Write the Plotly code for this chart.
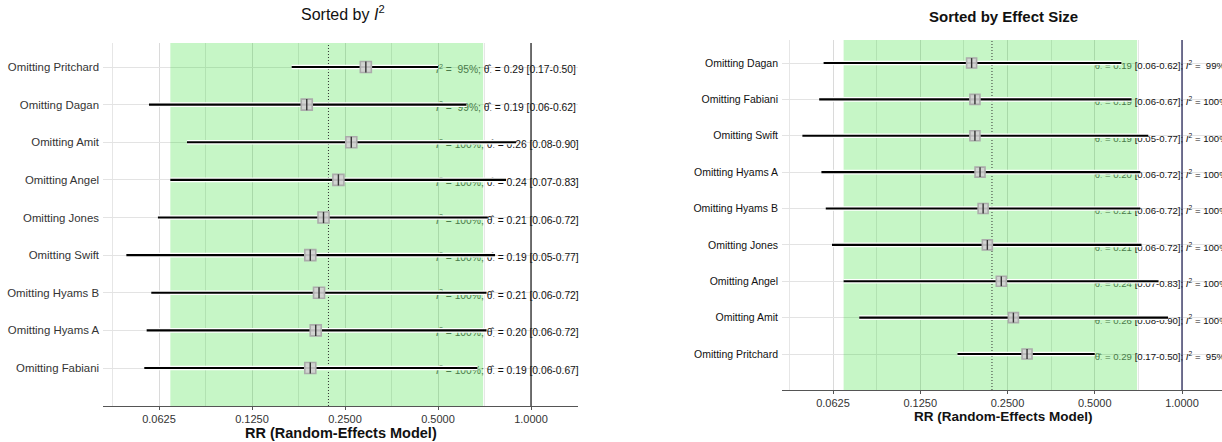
import math
import plotly.graph_objects as go

# ---------------- data ----------------
studies = ["Pritchard", "Dagan", "Amit", "Angel", "Jones", "Swift", "Hyams B", "Hyams A", "Fabiani"]
i2_pct = [95, 99, 100, 100, 100, 100, 100, 100, 100]
rr_est = [0.292, 0.188, 0.262, 0.238, 0.213, 0.193, 0.206, 0.201, 0.193]
rr_lo = [0.168, 0.058, 0.077, 0.068, 0.062, 0.049, 0.059, 0.057, 0.056]
rr_hi = [0.500, 0.618, 0.895, 0.830, 0.725, 0.765, 0.718, 0.718, 0.670]

order_i2 = ["Pritchard", "Dagan", "Amit", "Angel", "Jones", "Swift", "Hyams B", "Hyams A", "Fabiani"]
order_es = ["Dagan", "Fabiani", "Swift", "Hyams A", "Hyams B", "Jones", "Angel", "Amit", "Pritchard"]

pooled_est = 0.221
pooled_lo = 0.068
pooled_hi = 0.700

tick_vals = [0.0625, 0.125, 0.25, 0.5, 1.0]
tick_text = ["0.0625", "0.1250", "0.2500", "0.5000", "1.0000"]
minor_vals = [0.0442, 0.0884, 0.1768, 0.3536, 0.7071]

# ---------------- layout geometry (pixels) ----------------
W, H = 1222, 442
LP = dict(x0=103, x1=578, ref=531, ppd=93.0, top=43, bot=406, r_top=67, r_bot=368, tx=-2)
RP = dict(x0=782, x1=1222, ref=1182, ppd=87.25, top=40, bot=390, r_top=63, r_bot=354, tx=0)
FONT = "Liberation Sans, Arial, sans-serif"
TINT = "#4a7a4a"


def x_range(p):
    l2 = math.log10(2)
    return [l2 * (p["x0"] - p["ref"]) / p["ppd"], l2 * (p["x1"] - p["ref"]) / p["ppd"]]


def y_range(p, n=9):
    step = (p["r_bot"] - p["r_top"]) / (n - 1)
    return [1 - (p["bot"] - p["r_bot"]) / step, n + (p["r_top"] - p["top"]) / step]


def fmt_i2(v):
    s = f"{v}%"
    return s.rjust(4).replace(" ", "\u00a0")


THETA = "\u03b8\u0302<sub>\u00b7</sub>"
I2 = "<i>I</i><sup>2</sup>"

fig = go.Figure()


def add_panel(order, xa, ya, p, text_mode, text_size, marker_size, null_color):
    n = len(order)
    idx = [studies.index(s) for s in order]
    ys = [n - k for k in range(n)]
    step = (p["r_bot"] - p["r_top"]) / (n - 1)
    est = [rr_est[i] for i in idx]
    lo = [rr_lo[i] for i in idx]
    hi = [rr_hi[i] for i in idx]
    i2 = [i2_pct[i] for i in idx]

    texts = []
    for e, l, h, q in zip(est, lo, hi, i2):
        i2_txt = f"{I2} = {fmt_i2(q)}"
        part_th = f"{THETA} = {e:.2f} "
        part_ci = f"[{l:.2f}-{h:.2f}]"
        if text_mode == "left":
            texts.append(f"<span style='color:{TINT}'>{i2_txt}; </span>{part_th}{part_ci}")
        else:
            texts.append(f"<span style='color:{TINT}'>{part_th}</span>{part_ci}; {i2_txt}")

    text_x = 0.5 * 2 ** (p["tx"] / p["ppd"])
    # text (beneath the lines)
    fig.add_trace(go.Scatter(
        x=[text_x] * n, y=[y - 3.5 / step for y in ys], mode="text", text=texts,
        textposition="middle right", textfont=dict(family=FONT, size=text_size, color="#111"),
        xaxis=xa, yaxis=ya, showlegend=False, hoverinfo="skip", cliponaxis=False))

    lx, ly = [], []
    for l, h, y in zip(lo, hi, ys):
        lx += [l, h, None]
        ly += [y, y, None]
    fig.add_trace(go.Scatter(x=lx, y=ly, mode="lines", line=dict(color="white", width=4.6),
                             xaxis=xa, yaxis=ya, showlegend=False, hoverinfo="skip", cliponaxis=False))
    fig.add_trace(go.Scatter(x=lx, y=ly, mode="lines", line=dict(color="black", width=2.2),
                             xaxis=xa, yaxis=ya, showlegend=False, hoverinfo="skip", cliponaxis=False))
    fig.add_trace(go.Scatter(x=est, y=ys, mode="markers",
                             marker=dict(symbol="square", size=marker_size, color="rgba(208,208,208,0.9)",
                                         line=dict(color="#ababab", width=1.6)),
                             xaxis=xa, yaxis=ya, showlegend=False, hoverinfo="skip"))
    fig.add_trace(go.Scatter(x=est, y=ys, mode="markers",
                             marker=dict(symbol="line-ns", size=marker_size - 3,
                                         line=dict(color="#333", width=1.4)),
                             xaxis=xa, yaxis=ya, showlegend=False, hoverinfo="skip"))

    y0, y1 = y_range(p)
    fig.add_shape(type="rect", xref=xa, yref=ya, x0=pooled_lo, x1=pooled_hi, y0=y0, y1=y1,
                  fillcolor="rgba(0,215,0,0.224)", line=dict(width=0), layer="between")
    fig.add_shape(type="line", xref=xa, yref=ya, x0=pooled_est, x1=pooled_est, y0=y0, y1=y1,
                  line=dict(color="#333", width=1, dash="1px,2px"), layer="between")
    fig.add_shape(type="line", xref=xa, yref=ya, x0=1.0, x1=1.0, y0=y0, y1=y1,
                  line=dict(color=null_color, width=1.3), layer="above")

    return [f"Omitting {s}" for s in order], ys


labels_l, ys_l = add_panel(order_i2, "x", "y", LP, "left", 10.3, 11, "#2a2a2a")
labels_r, ys_r = add_panel(order_es, "x2", "y2", RP, "right", 9.6, 10, "#2b2b5c")


def xaxis_cfg(p, tick_size, anchor):
    return dict(
        type="log", range=x_range(p), domain=[p["x0"] / W, p["x1"] / W], anchor=anchor,
        tickvals=tick_vals, ticktext=tick_text, tickfont=dict(family=FONT, size=tick_size, color="#333"),
        showgrid=True, gridcolor="#dadada", gridwidth=1,
        minor=dict(tickmode="array", tickvals=minor_vals, showgrid=True, gridcolor="#e6e6e6", gridwidth=0.8,
                   ticks=""),
        showline=True, linecolor="#555", linewidth=1.3, ticks="outside", ticklen=3, tickcolor="#555",
        zeroline=False, fixedrange=True)


def yaxis_cfg(p, labels, ys, size, color, anchor):
    return dict(
        range=y_range(p), domain=[1 - p["bot"] / H, 1 - p["top"] / H], anchor=anchor,
        tickvals=ys, ticktext=labels, tickfont=dict(family=FONT, size=size, color=color),
        showgrid=True, gridcolor="#e3e3e3", gridwidth=1, zeroline=False, showline=False, ticks="",
        ticklabelstandoff=3, fixedrange=True)


fig.update_layout(
    width=W, height=H, margin=dict(l=0, r=0, t=0, b=0),
    paper_bgcolor="white", plot_bgcolor="white", showlegend=False,
    xaxis=xaxis_cfg(LP, 11, "y"), yaxis=yaxis_cfg(LP, labels_l, ys_l, 11.4, "#333", "x"),
    xaxis2=xaxis_cfg(RP, 11, "y2"), yaxis2=yaxis_cfg(RP, labels_r, ys_r, 10.5, "#111", "x2"),
)

ann = [
    dict(text=f"Sorted by {I2}", x=343 / W, y=1 - 13 / H, font=dict(family=FONT, size=16, color="#111")),
    dict(text="<b>Sorted by Effect Size</b>", x=1003 / W, y=1 - 17 / H, font=dict(family=FONT, size=15, color="#111")),
    dict(text="<b>RR (Random-Effects Model)</b>", x=341 / W, y=1 - 433 / H, font=dict(family=FONT, size=14.5, color="#111")),
    dict(text="<b>RR (Random-Effects Model)</b>", x=1003 / W, y=1 - 416 / H, font=dict(family=FONT, size=13.5, color="#111")),
]
for a in ann:
    fig.add_annotation(xref="paper", yref="paper", showarrow=False, xanchor="center", yanchor="middle", **a)

fig.write_html("out.html", config={"displayModeBar": False},
               post_script="document.body.style.margin='0';document.body.style.overflow='hidden';")
